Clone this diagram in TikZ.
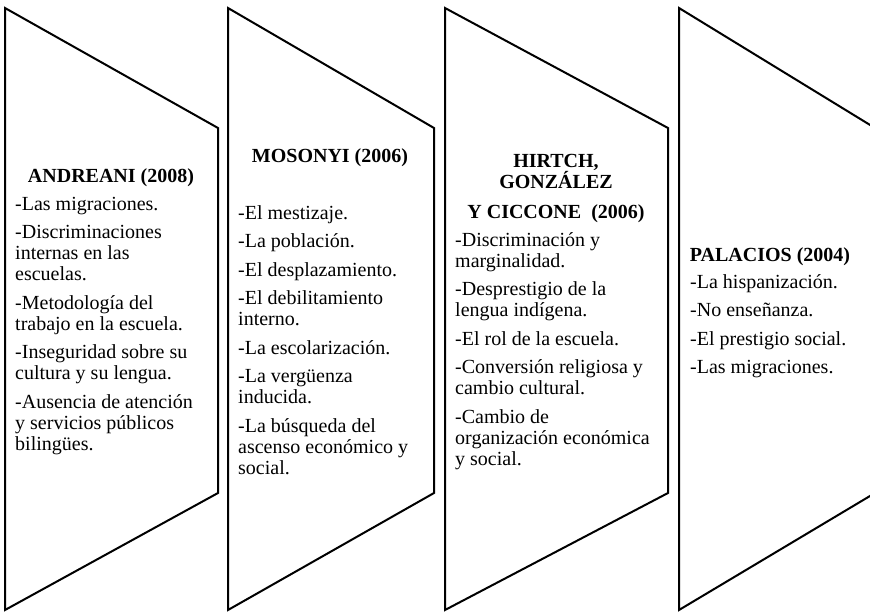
\documentclass[tikz,border=0pt]{standalone}
\usepackage{fontspec}
\setmainfont{Liberation Serif}
\usepackage{tikz}
\usetikzlibrary{positioning}

\begin{document}
\begin{tikzpicture}[
    x=1pt, y=-1pt,
    panel/.style={draw, line width=2pt, line join=miter},
    author/.style={font=\bfseries\fontsize{20}{21}\selectfont, align=center, inner sep=0pt, anchor=north},
    causes/.style={font=\fontsize{20}{21}\selectfont, align=left, inner sep=0pt, anchor=north west}
]
\clip (0,0) rectangle (870,612);

% four panels
\foreach \xl/\xr in {5/218, 228/434, 445/668, 679/875}
    \draw[panel] (\xl,8) -- (\xr,128) -- (\xr,493) -- (\xl,610) -- cycle;

\node[author] (andreani) at (111,168) {ANDREANI (2008)};
\node[causes] (andreani-list) at (15,197) {-Las migraciones.\\[7.5pt]
    -Discriminaciones\\ internas en las\\ escuelas.\\[7.5pt]
    -Metodología del\\ trabajo en la escuela.\\[7.5pt]
    -Inseguridad sobre su\\ cultura y su lengua.\\[7.5pt]
    -Ausencia de atención\\ y servicios públicos\\ bilingües.};

\node[author] (mosonyi) at (330,148) {MOSONYI (2006)};
\node[causes] (mosonyi-list) at (238,205) {-El mestizaje.\\[7.5pt]
    -La población.\\[7.5pt]
    -El desplazamiento.\\[7.5pt]
    -El debilitamiento\\ interno.\\[7.5pt]
    -La escolarización.\\[7.5pt]
    -La vergüenza\\ inducida.\\[7.5pt]
    -La búsqueda del\\ ascenso económico y\\ social.};

\node[author] (hirtch) at (556,154) {HIRTCH,\\ GONZÁLEZ\\[9pt] Y CICCONE\ \ (2006)};
\node[causes] (hirtch-list) at (455,232) {-Discriminación y\\ marginalidad.\\[7.5pt]
    -Desprestigio de la\\ lengua indígena.\\[7.5pt]
    -El rol de la escuela.\\[7.5pt]
    -Conversión religiosa y\\ cambio cultural.\\[7.5pt]
    -Cambio de\\ organización económica\\ y social.};

\node[author] (palacios) at (770,247) {PALACIOS (2004)};
\node[causes] (palacios-list) at (690,274) {-La hispanización.\\[7.5pt]
    -No enseñanza.\\[7.5pt]
    -El prestigio social.\\[7.5pt]
    -Las migraciones.};

\end{tikzpicture}
\end{document}
